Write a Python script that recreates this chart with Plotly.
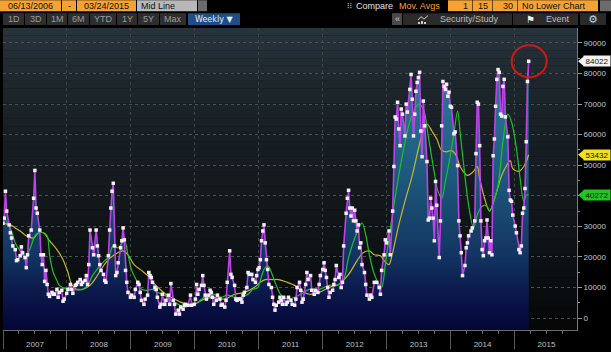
import plotly.graph_objects as go
import pandas as pd

# ---------------- data (weekly, week index counted from 2007-01-01) ----------------
START = "2007-01-01"
END_VIEW = "2015-12-24"

price_week = [0, 1, 2, 3, 5, 6, 7, 8, 10, 11, 12, 14, 15, 16, 18, 19, 20, 21, 23, 25, 26, 27, 28, 30, 31, 32, 33, 34, 35, 36, 37, 38,
              40, 41, 42, 44, 45, 46, 48, 49, 50, 52, 53, 55, 56, 57, 59, 60, 61, 63, 64, 65, 67, 68, 69, 70, 71, 73, 74, 76, 77, 78,
              79, 80, 82, 83, 84, 86, 87, 88, 89, 90, 91, 92, 93, 94, 96, 97, 98, 99, 100, 101, 102, 104, 105, 107, 108, 110, 111, 112,
              113, 115, 116, 118, 119, 120, 121, 122, 124, 125, 126, 128, 129, 130, 132, 133, 135, 136, 137, 139, 140, 141, 143, 144,
              145, 147, 148, 149, 151, 153, 154, 156, 157, 158, 159, 160, 162, 163, 164, 165, 166, 168, 169, 170, 171, 172, 174, 175,
              177, 178, 179, 181, 182, 183, 185, 186, 187, 189, 190, 191, 192, 194, 195, 196, 197, 199, 200, 201, 203, 204, 206, 207,
              208, 209, 210, 211, 212, 213, 214, 215, 216, 217, 219, 220, 221, 222, 223, 225, 226, 227, 228, 229, 231, 232, 233, 235,
              236, 238, 239, 240, 242, 243, 244, 245, 247, 248, 249, 251, 252, 254, 255, 257, 258, 259, 261, 262, 263, 264, 265, 266,
              267, 269, 270, 271, 272, 274, 275, 276, 277, 278, 280, 281, 282, 283, 284, 285, 286, 287, 288, 289, 290, 291, 292, 293,
              295, 296, 297, 299, 300, 301, 303, 305, 307, 308, 309, 311, 312, 313, 315, 316, 318, 319, 320, 321, 322, 323, 324, 325,
              326, 328, 329, 330, 332, 333, 334, 335, 336, 337, 338, 339, 340, 341, 342, 343, 344, 346, 347, 348, 349, 350, 351, 352,
              353, 354, 356, 357, 358, 359, 360, 361, 362, 363, 364, 365, 366, 368, 369, 371, 372, 373, 374, 375, 377, 378, 379, 380,
              382, 383, 385, 386, 387, 388, 389, 390, 391, 392, 393, 394, 395, 396, 397, 398, 399, 400, 401, 402, 403, 404, 405, 406,
              407, 408, 409, 410, 412, 413, 414, 415, 416, 418, 419, 421, 422, 423, 424, 425, 426, 427, 428, 429]
price_k = [31.0, 32.7, 41.5, 35.0, 30.5, 27.9, 26.2, 23.6, 22.4, 18.8, 19.1, 20.4, 23.3, 21.4, 19.8, 16.5, 20.7, 26.9, 28.8, 39.2,
           48.3, 36.0, 34.3, 28.8, 20.7, 17.5, 20.7, 12.0, 15.6, 11.0, 7.8, 7.1,
           8.4, 7.8, 7.8, 9.4, 6.8, 8.4, 9.1, 5.5, 6.2, 8.1, 9.4, 11.0, 9.4, 8.1, 10.7, 11.0, 11.7, 12.6, 11.0, 11.7, 12.3, 13.9,
           11.0, 17.5, 28.8, 23.0, 20.7, 28.8, 23.6, 20.4,
           17.5, 15.6, 14.3, 12.3, 11.7, 20.4, 28.8, 36.0, 41.5, 44.1, 23.6, 13.9, 14.9, 18.1, 23.0, 25.3, 29.5, 25.6, 15.6, 11.7,
           8.4, 6.8, 7.5, 6.8, 9.4, 11.7, 11.0, 8.4,
           5.8, 4.5, 6.2, 7.5, 14.9, 13.9, 13.3, 11.7, 10.0, 9.4, 6.8, 3.6, 4.5, 7.8, 4.5, 5.8, 7.5, 4.5, 11.3, 5.8, 4.5, 1.3, 2.6, 1.3,
           3.6, 2.9, 4.2, 4.5, 4.2, 7.5, 4.2, 4.5, 6.2, 11.0, 7.8, 9.4, 10.7, 13.9, 10.7, 7.5, 6.2, 7.5, 9.1, 8.4, 6.8, 4.5, 5.8, 7.5,
           6.2, 4.2, 4.5, 3.6, 5.8, 11.7, 22.0, 14.3, 13.3, 10.7, 6.2, 5.8, 6.2, 6.2, 5.2, 7.5, 8.4, 10.0, 14.9, 14.3, 14.3, 12.6,
           11.7, 13.9,
           15.9, 16.5, 19.1, 25.3, 28.5, 30.5, 24.6, 19.1, 15.9, 11.0, 10.0, 6.8, 4.5, 2.6, 4.2, 5.2, 6.8, 5.8, 4.5, 6.8, 4.5, 5.2,
           6.8, 5.8,
           4.5, 4.2, 6.2, 10.0, 11.7, 9.1, 5.2, 6.2, 11.0, 14.9, 12.6, 13.9, 9.1, 7.8, 9.1, 8.4, 11.0, 13.9, 15.9, 18.1, 15.6, 13.3,
           10.0, 6.8,
           8.4, 9.1, 11.0, 12.6, 17.2, 13.3, 14.3, 10.0, 11.7, 23.6, 34.3, 39.2, 41.8, 36.0, 33.4, 36.0, 31.8, 35.3, 31.8, 28.5,
           30.5, 23.0, 24.6, 17.5,
           14.9, 11.0, 7.5, 6.2, 7.5, 6.8, 11.7, 11.7, 10.0, 7.8, 15.6, 20.7, 25.6, 24.6, 28.5, 20.7, 35.0, 49.6, 65.8, 65.1, 70.6,
           61.9, 56.4, 68.4,
           66.7, 59.6, 70.0, 67.4, 74.8, 79.7, 71.6, 59.6, 66.7, 74.2, 77.1, 78.7, 80.4, 61.2, 52.8, 71.0, 62.9, 51.2, 32.1, 32.7,
           39.2, 36.0, 32.7, 25.3,
           44.7, 36.9, 19.8, 31.8, 62.9, 77.4, 75.8, 74.8, 76.5, 72.6, 73.9, 69.3, 69.0, 60.3, 60.9, 49.9, 31.8, 26.9, 21.4, 13.9,
           17.2, 23.0, 24.6, 26.9,
           28.5, 29.5, 31.8, 53.8, 70.6, 70.0, 56.4, 31.8, 22.4, 20.4, 25.3, 26.2, 32.1, 26.2, 21.4, 25.3, 20.7, 53.1, 58.6, 69.3,
           78.1, 81.3, 80.4, 66.7,
           66.1, 75.8, 78.1, 65.8, 59.3, 41.8, 38.6, 38.2, 33.7, 30.1, 27.9, 22.4, 21.4, 23.6, 34.3, 36.0, 42.4, 57.7, 77.4, 84.022]

# 15-period moving average (green)
ma15_week = [0, 6, 10, 14, 18, 20, 23, 26, 29, 33, 36, 38, 41, 44, 46, 52, 56, 61, 65, 69, 73, 78, 83, 86, 90, 94, 99, 102, 105,
             109, 113, 118, 122, 126, 132, 137, 143, 148, 153, 159, 162, 167, 172, 178, 183, 189, 194, 200, 204, 208, 210, 213,
             216, 219, 223, 227, 232, 238, 243, 250, 258, 266, 274, 278, 282, 288, 293, 296, 299, 303, 307, 309, 312, 315, 319,
             323, 327, 331, 335, 339, 343, 347, 351, 355, 358, 361, 365, 368, 371, 373, 376, 380, 384, 387, 391, 395, 397, 400,
             404, 408, 412, 415, 419, 422, 425, 427, 429]
ma15_k = [33.4, 29.5, 24.6, 22.0, 19.8, 20.7, 23.7, 26.9, 27.9, 27.9, 26.9, 20.7, 14.9, 12.3, 10.7, 9.4, 9.1, 9.4, 9.4, 10.7, 13.9,
          16.5, 18.8, 19.8, 23.7, 23.0, 25.3, 20.7, 15.6, 12.3, 9.4, 9.1, 9.4, 8.4, 7.5, 5.8, 4.5, 3.6, 4.2, 5.2, 6.2, 7.5, 7.8,
          6.8, 7.5, 6.8, 6.8, 7.8, 9.4, 10.0, 12.3, 15.9, 17.2, 14.9, 10.7, 7.5, 6.2, 6.8, 7.8, 9.4, 9.4, 10.7, 11.0, 12.6, 19.8,
          27.2, 31.1, 27.2, 20.7, 14.3, 11.0, 10.0, 17.5, 26.2, 36.9, 46.7, 55.4, 62.9, 67.4, 70.0, 68.4, 59.6, 49.9, 41.5, 39.2,
          44.7, 53.1, 60.5, 67.7, 60.9, 49.9, 36.9, 29.5, 33.7, 36.6, 36.6, 35.0, 37.6, 43.4, 57.7, 66.7, 64.2, 55.4, 45.7, 38.2,
          40.2, 40.272]

# 30-period moving average (yellow)
ma30_week = [0, 6, 10, 14, 19, 25, 29, 33, 38, 44, 49, 53, 56, 60, 65, 71, 76, 80, 86, 91, 98, 102, 107, 113, 118, 124, 129, 134,
             140, 145, 151, 156, 164, 172, 181, 189, 197, 205, 210, 214, 220, 225, 232, 238, 243, 250, 258, 266, 274, 282, 289,
             294, 299, 303, 308, 311, 315, 317, 323, 328, 334, 339, 343, 346, 350, 354, 358, 362, 366, 370, 373, 379, 384, 387,
             389, 393, 397, 402, 407, 411, 414, 416, 421, 425, 429]
ma30_k = [31.1, 30.5, 29.5, 28.5, 26.9, 26.2, 27.9, 27.9, 25.3, 22.4, 19.1, 14.9, 11.0, 9.4, 9.4, 10.7, 13.3, 15.9, 19.1, 20.7,
          22.0, 20.7, 17.5, 15.6, 13.9, 11.0, 9.1, 7.5, 6.2, 5.2, 4.5, 4.5, 6.2, 6.8, 6.2, 7.8, 8.4, 10.0, 11.7, 12.6, 12.6, 12.6,
          11.7, 10.7, 9.1, 7.8, 8.4, 10.0, 11.0, 14.3, 18.8, 21.4, 22.0, 20.7, 20.4, 18.8, 17.5, 19.8, 30.5, 38.2, 46.7, 55.4,
          61.2, 63.5, 61.2, 58.6, 54.8, 54.4, 54.8, 53.1, 49.6, 46.7, 48.0, 49.6, 45.7, 39.2, 35.0, 40.2, 46.7, 49.9, 51.5, 48.9,
          48.0, 49.6, 53.432]

y_ticks = list(range(0, 90001, 10000))
Y_RANGE = [-3900, 94900]


def weeks_to_dates(weeks):
    d = pd.Timestamp(START) + pd.to_timedelta([7 * w for w in weeks], unit="D")
    return d.strftime("%Y-%m-%d").tolist()


price_x = weeks_to_dates(price_week)
price_y = [v * 1000 for v in price_k]
ma15_x = weeks_to_dates(ma15_week)
ma15_y = [v * 1000 for v in ma15_k]
ma30_x = weeks_to_dates(ma30_week)
ma30_y = [v * 1000 for v in ma30_k]

# ---------------- layout helpers (pixel -> paper) ----------------
W, H = 611, 352
L, R, T, B = 3, 577, 28, 333


def px(x):
    return (x - L) / (R - L)


def py(y):
    return (B - y) / (B - T)


FONT = "Liberation Sans"
shapes = []
annotations = []


def rect(x0, y0, x1, y1, color, layer="above"):
    shapes.append(dict(type="rect", xref="paper", yref="paper", x0=px(x0), x1=px(x1), y0=py(y1), y1=py(y0),
                       fillcolor=color, line=dict(width=0), layer=layer))


def text(x, y, s, color, size=9, anchor="center", family=FONT):
    annotations.append(dict(xref="paper", yref="paper", x=px(x), y=py(y), text=s, showarrow=False,
                            xanchor=anchor, yanchor="middle", font=dict(family=family, size=size, color=color)))


def hex2rgb(h):
    h = h.lstrip("#")
    return [int(h[i:i + 2], 16) for i in (0, 2, 4)]


def lerp_color(stops, t):
    for (t0, c0), (t1, c1) in zip(stops[:-1], stops[1:]):
        if t0 <= t <= t1:
            f = (t - t0) / (t1 - t0) if t1 > t0 else 0
            a, b = hex2rgb(c0), hex2rgb(c1)
            return "rgb(%d,%d,%d)" % tuple(round(a[i] + (b[i] - a[i]) * f) for i in range(3))
    return stops[-1][1]


# plot background gradient (vertical)
bg_stops = [(0.0, "#050606"), (0.15, "#0a0e10"), (0.5, "#141a1e"), (0.8, "#1c252b"), (1.0, "#28343c")]
NB = 40
for i in range(NB):
    y0 = i / NB
    y1 = (i + 1) / NB
    shapes.append(dict(type="rect", xref="paper", yref="paper", x0=0, x1=1, y0=y0, y1=y1,
                       fillcolor=lerp_color(bg_stops, (y0 + y1) / 2), line=dict(width=0), layer="below"))

# ---------------- toolbar ----------------
ORANGE = "#f6a233"
rect(0, 0, 61, 11, ORANGE); text(30.5, 5.5, "06/13/2006", "#111111")
rect(62, 0, 76, 11, ORANGE); text(69, 5.5, "-", "#111111")
rect(77, 0, 136, 11, ORANGE); text(106.5, 5.5, "03/24/2015", "#111111")
rect(137, 0, 197, 11, "#b8b8b8"); text(139, 5.5, "Mid Line", "#111111", anchor="left")
rect(198, 0, 207, 11, "#6c6c6c")
text(349, 5.5, "⁝⁝", "#d8d8d8", size=8, anchor="center", family="DejaVu Sans")
text(354, 5.5, "Compare", "#e4e4e4", anchor="left")
text(397, 5.5, "Mov. Avgs", ORANGE, anchor="left")
rect(448, 0, 472, 11, ORANGE); text(470, 5.5, "1", "#111111", anchor="right")
rect(473, 0, 492, 11, ORANGE); text(490, 5.5, "15", "#111111", anchor="right")
rect(493, 0, 517, 11, ORANGE); text(515, 5.5, "30", "#111111", anchor="right")
rect(518, 0, 598, 11, ORANGE); text(520, 5.5, "No Lower Chart", "#111111", anchor="left")
rect(600, 0, 611, 11, "#6c6c6c")
for xs in (472, 492, 517):
    rect(xs, 0, xs + 1, 11, "#6b4a18")

buttons = [(3, 24, "1D"), (25, 46, "3D"), (47, 67, "1M"), (68, 89, "6M"), (90, 116, "YTD"),
           (117, 137, "1Y"), (138, 159, "5Y"), (160, 186, "Max")]
for x0, x1, s in buttons:
    rect(x0, 13, x1, 25, "#2e2e2e")
    text((x0 + x1) / 2, 19, s, "#9c9c9c")
rect(188, 13, 240, 25, "#1f4e86"); text(214, 19, "Weekly ▼", "#e8eef6", family="DejaVu Sans", size=8)

rect(392, 13, 402, 25, "#4a4a4a"); text(397, 19, "«", "#cccccc")
rect(403, 13, 512, 25, "#2a2a2a")
for bx, bh in ((418, 2), (421, 3), (424, 2)):
    rect(bx, 24 - bh, bx + 2, 24, "#cfcfcf")
shapes.append(dict(type="path", xref="paper", yref="paper",
                   path="M %f,%f L %f,%f L %f,%f L %f,%f" % (px(418), py(20), px(421), py(16.5), px(424), py(19), px(428), py(15.5)),
                   line=dict(color="#cfcfcf", width=1)))
text(438, 19, "Security/Study", "#bdbdbd", anchor="left")
rect(513, 13, 578, 25, "#2a2a2a")
text(530, 19, "⚑", "#f2f2f2", size=10, family="DejaVu Sans")
text(544, 19, "Event", "#bdbdbd", anchor="left")
rect(580, 13, 606, 25, "#2a2a2a")
text(593, 19, "⚙", "#cfcfcf", size=11, family="DejaVu Sans")

# ---------------- traces ----------------
fig = go.Figure()

# baseline at the bottom of the plot so the gradient fill reaches the axis
fig.add_trace(go.Scatter(x=[price_x[0], price_x[-1]], y=[Y_RANGE[0], Y_RANGE[0]], mode="lines",
                         line=dict(width=0), hoverinfo="skip", showlegend=False))
fig.add_trace(go.Scatter(
    x=price_x, y=price_y, mode="lines", line=dict(width=0), fill="tonexty",
    fillgradient=dict(type="vertical", start=Y_RANGE[0], stop=Y_RANGE[1],
                      colorscale=[[0.0, "#050634"], [0.04, "#06093c"], [0.14, "#0b1a4c"], [0.24, "#113260"],
                                  [0.39, "#18486e"], [0.545, "#1f5c80"], [0.75, "#29708f"], [0.9, "#2f7d9d"],
                                  [1.0, "#3386a6"]]),
    hoverinfo="skip", showlegend=False))

fig.add_trace(go.Scatter(x=ma30_x, y=ma30_y, mode="lines", line=dict(color="#c9b52a", width=1.2, shape="spline"),
                         name="MA 30", showlegend=False))
fig.add_trace(go.Scatter(x=ma15_x, y=ma15_y, mode="lines", line=dict(color="#1fbf2a", width=1.2, shape="spline"),
                         name="MA 15", showlegend=False))
fig.add_trace(go.Scatter(x=price_x, y=price_y, mode="lines+markers",
                         line=dict(color="#bb44e6", width=1.6),
                         marker=dict(symbol="square", size=3.5, color="#f4f0f8", line=dict(width=0)),
                         name="Price", showlegend=False))

# ---------------- last value tags on the right axis ----------------
tags = [(price_y[-1], "#f2f2f2"), (ma30_y[-1], "#f0e020"), (ma15_y[-1], "#22c322")]
for val, col in tags:
    annotations.append(dict(xref="paper", yref="y", x=px(583), y=val, text="%d" % round(val), showarrow=False,
                            xanchor="left", yanchor="middle", bgcolor=col, borderpad=1, width=24, height=8,
                            font=dict(family=FONT, size=8, color="#111111")))
    shapes.append(dict(type="path", xref="paper", yref="y", xsizemode="pixel", ysizemode="pixel",
                       xanchor=px(578), yanchor=val, path="M 0,0 L 6,5 L 6,-5 Z",
                       fillcolor=col, line=dict(width=0), layer="above"))

# tick labels hidden behind a value tag (as in the terminal view)
tag_vals = [v for v, _ in tags]
y_ticktext = ["" if any(abs(t - v) < 2500 for v in tag_vals) else "%d" % t for t in y_ticks]

# red circle around the latest value
shapes.append(dict(type="circle", xref="x", yref="y", xsizemode="pixel", ysizemode="pixel",
                   xanchor=price_x[-1], yanchor=price_y[-1], x0=-17, x1=18, y0=-16, y1=16,
                   line=dict(color="#d01818", width=2), layer="above"))

fig.update_layout(
    width=W, height=H, margin=dict(l=L, r=W - R, t=T, b=H - B),
    paper_bgcolor="#000000", plot_bgcolor="#0b0f11", showlegend=False,
    font=dict(family=FONT, size=8, color="#c4c4c4"),
    shapes=shapes, annotations=annotations,
    xaxis=dict(type="date", range=[START, END_VIEW], tick0=START, dtick="M12", tickformat="%Y",
               ticklabelmode="period", ticks="outside", ticklen=18, tickwidth=1, tickcolor="#5a5a5a",
               ticklabelstandoff=-12,
               showgrid=True, gridcolor="#3e464b", griddash="dot", gridwidth=1,
               showline=True, linecolor="#6a6a6a", linewidth=1, zeroline=False,
               minor=dict(dtick="M3", tick0=START, ticks="outside", ticklen=3, tickcolor="#6a6a6a", showgrid=False),
               tickfont=dict(family=FONT, size=8, color="#c0c0c0")),
    yaxis=dict(side="right", range=Y_RANGE, tickvals=y_ticks, ticktext=y_ticktext, ticks="outside", ticklen=4,
               tickcolor="#9a9a9a", showgrid=True, gridcolor="#4a5256", griddash="dot", gridwidth=1,
               showline=True, linecolor="#7a7a7a", linewidth=1, zeroline=False,
               minor=dict(dtick=5000, tick0=0, ticks="outside", ticklen=2, tickcolor="#9a9a9a", showgrid=False),
               tickfont=dict(family=FONT, size=8, color="#c8c8c8")),
)

fig.write_html("out.html")
